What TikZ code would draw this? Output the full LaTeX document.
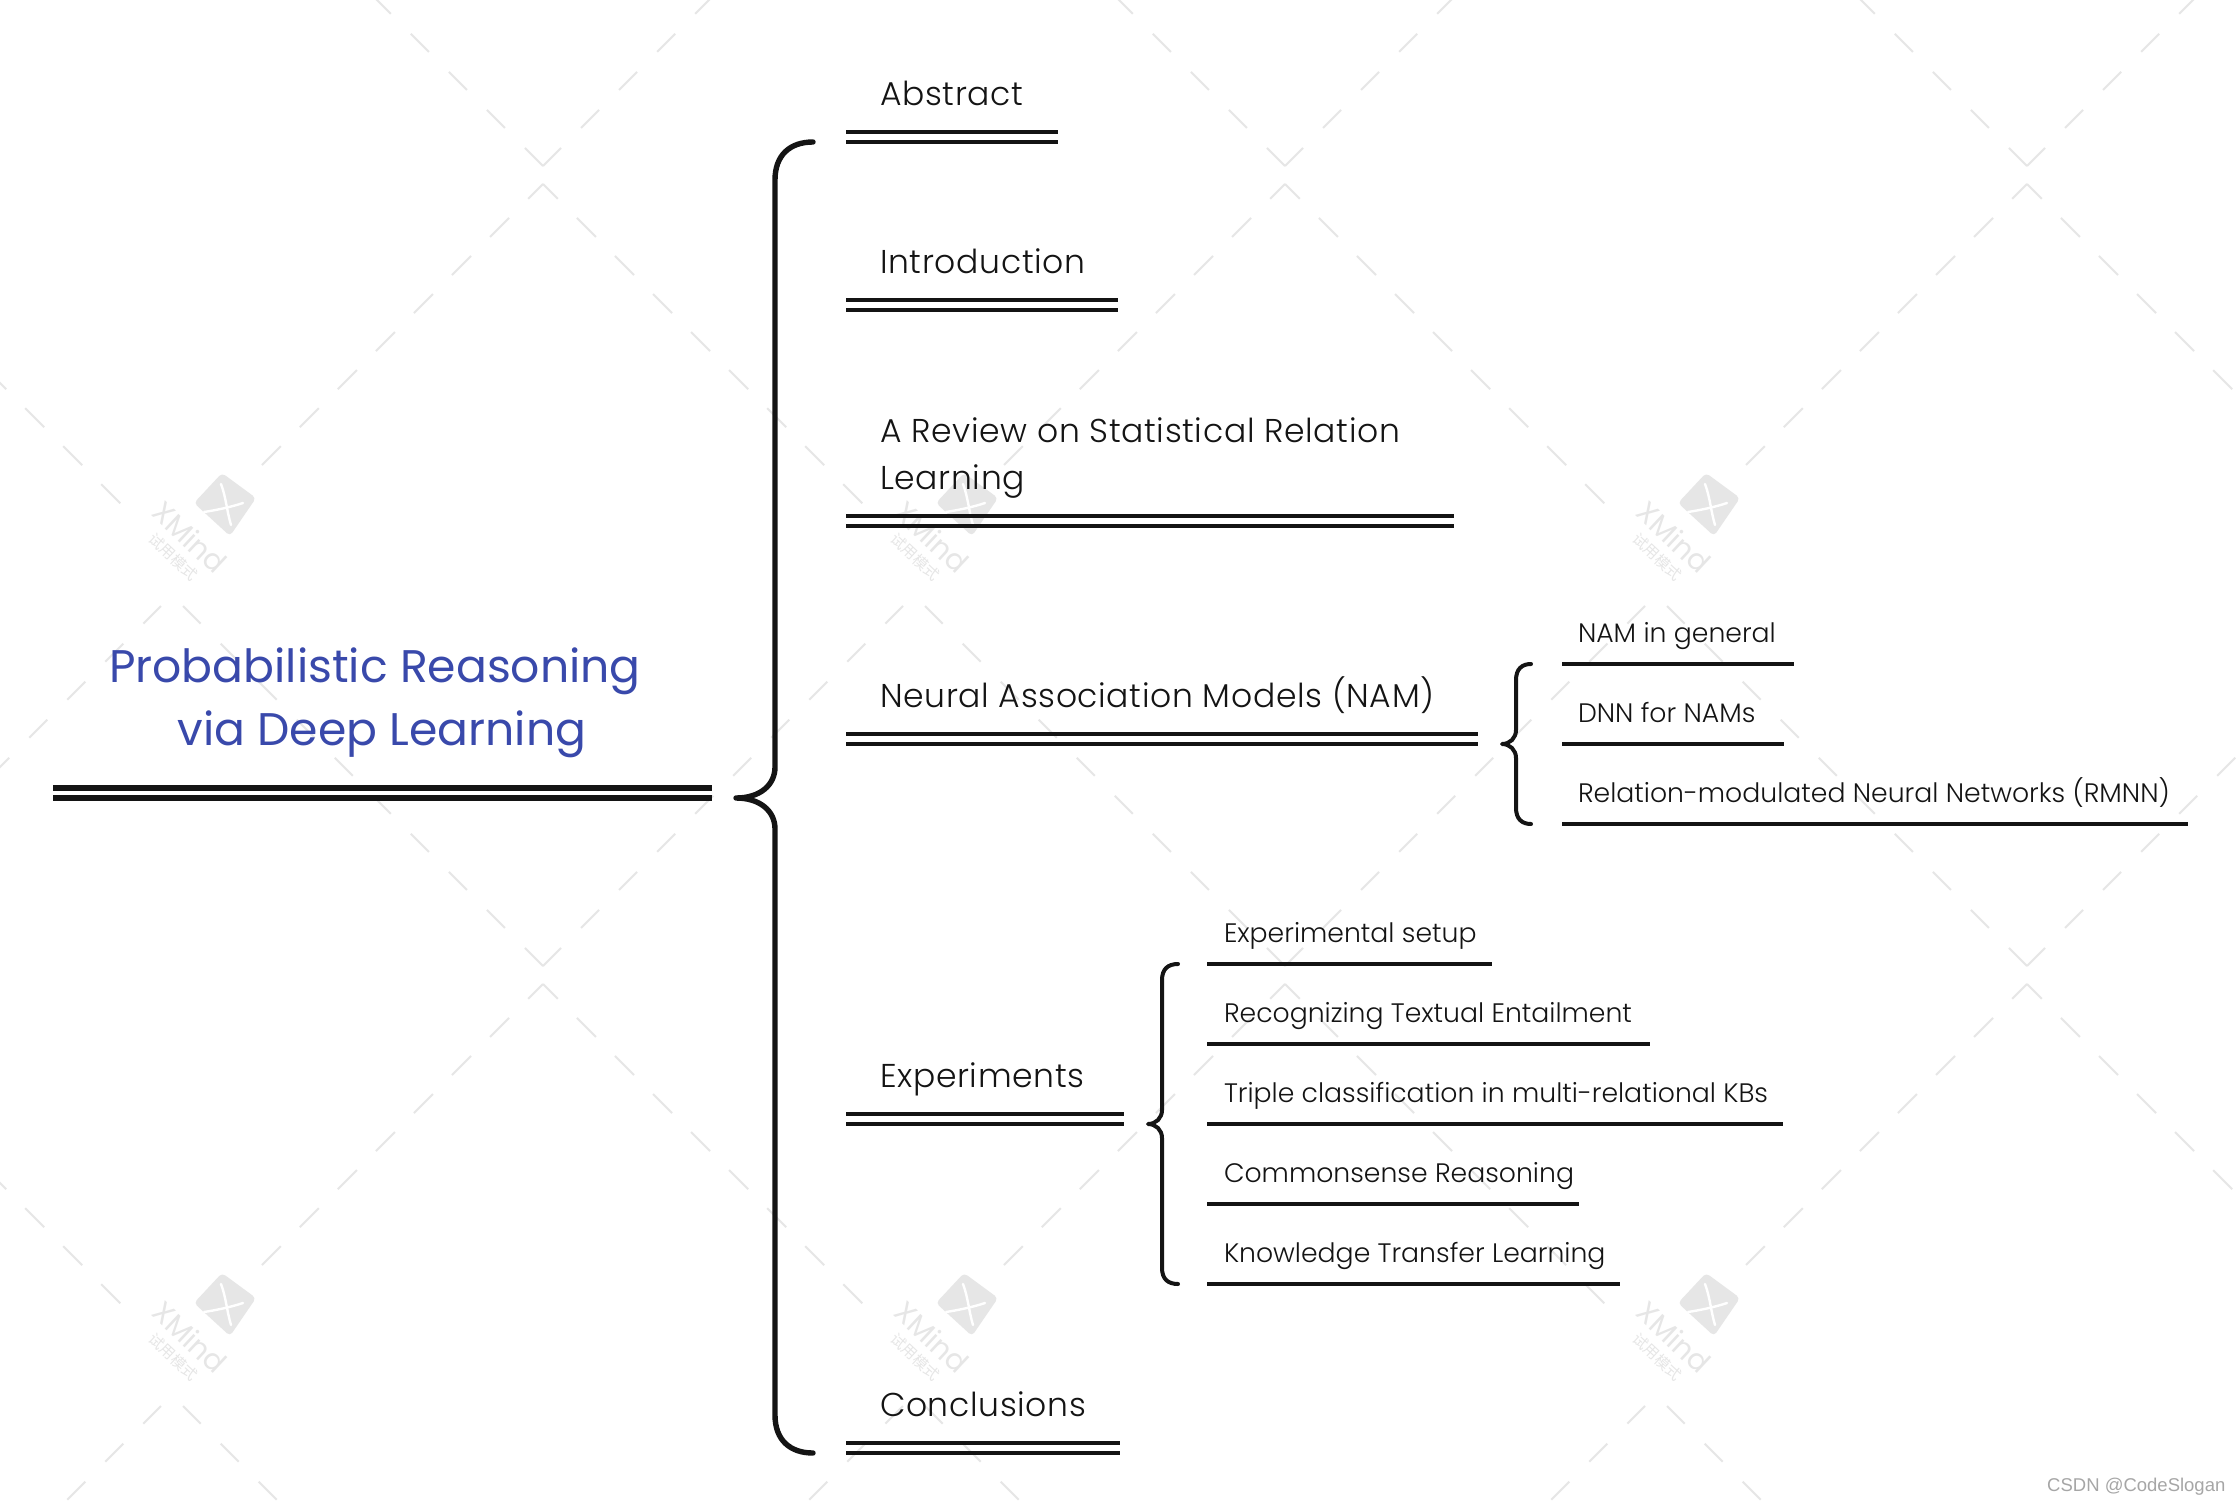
\documentclass[tikz,border=0pt]{standalone}
\usepackage{fontspec}
\setmainfont{Poppins}[UprightFont=* Light]
\newfontfamily\topicfont{Poppins}[UprightFont=* Light,LetterSpace=2]
\newfontfamily\titlefont{Poppins}
\newfontfamily\csdnfont{Liberation Sans}
\newfontfamily\cjkfont{Noto Sans CJK SC}
\definecolor{ink}{HTML}{141414}
\definecolor{titleblue}{HTML}{3949AB}
\definecolor{wm}{HTML}{E6E6E6}
\definecolor{csdn}{HTML}{A6A6A6}
\tikzset{
  lbl/.style={inner sep=0pt,outer sep=0pt,anchor=base west,text=ink},
  topiclbl/.style={lbl,font=\topicfont\fontsize{33}{47}\selectfont,align=left},
  sublbl/.style={lbl,font=\fontsize{26.7}{30}\selectfont},
  rootlbl/.style={inner sep=0pt,outer sep=0pt,anchor=base,text=titleblue,align=center,font=\titlefont\fontsize{45.7}{63}\selectfont},
  rulethick/.style={draw=ink,line width=6pt},
  rulemid/.style={draw=ink,line width=4pt},
  rulesub/.style={draw=ink,line width=4pt},
  bracelarge/.style={draw=ink,line width=5.4pt,line cap=round,line join=round},
  bracesmall/.style={draw=ink,line width=4pt,line cap=round,line join=round},
  wmdash/.style={draw=wm,line width=2pt,dash pattern=on 25.5pt off 28.3pt},
}
% name, x-left, x-right, y of upper rule (lower rule is 10 below), label
\newcommand{\topicrow}[5]{%
  \node[topiclbl] (#1) at (880,#4-27) {#5};
  \coordinate (#1ua) at (#2,#4); \coordinate (#1ub) at (#3,#4);
  \coordinate (#1la) at (#2,#4+10); \coordinate (#1lb) at (#3,#4+10);
  \draw[rulemid] (#1ua) -- (#1ub);
  \draw[rulemid] (#1la) -- (#1lb);
}
% name, x text, x-left, x-right, y of rule, label
\newcommand{\subrow}[6]{%
  \node[sublbl] (#1) at (#2,#5-22) {#6};
  \coordinate (#1a) at (#3,#5); \coordinate (#1b) at (#4,#5);
  \draw[rulesub] (#1a) -- (#1b);
}
\begin{document}
\begin{tikzpicture}[x=1pt,y=-1pt]
\useasboundingbox (0,0) rectangle (2238,1504);
\fill[white] (0,0) rectangle (2238,1504);

% watermark
\begin{scope}
\clip (0,0) rectangle (2238,1504);
\foreach \tx in {-199,543,1285,2027,2769}{
  \foreach \ty in {-800,0,800,1600}{
    \begin{scope}[shift={(\tx,\ty)}]
      \draw[wmdash] (0,166) -- (-360,-194);
      \draw[wmdash] (0,166) -- (360,-194);
      \draw[wmdash,dash pattern=on 21pt off 27pt on 26.9pt off 26.9pt on 26.9pt off 26.9pt on 26.9pt off 26.9pt on 26.9pt off 26.9pt on 26.9pt off 26.9pt on 26.9pt off 26.9pt on 26.9pt off 500pt] (0,184) -- (-281,465);
      \draw[wmdash,dash pattern=on 21pt off 27pt on 26.9pt off 26.9pt on 26.9pt off 26.9pt on 26.9pt off 26.9pt on 26.9pt off 26.9pt on 26.9pt off 26.9pt on 26.9pt off 26.9pt on 26.9pt off 26.9pt on 26.9pt off 500pt] (0,184) -- (323,507);
    \end{scope}
  }
}
\foreach \i/\tx in {0/0,1/742,2/1484}{
  \foreach \j/\ty in {0/0,1/800}{
    \begin{scope}[shift={(\tx,\ty)}]
      \fill[wm,rounded corners=4pt] (222,473) -- (256,498) -- (230,536) -- (194,503) -- cycle;
      \draw[white,line width=2.4pt,line cap=round] (221,484) .. controls (226,497) and (227,512) .. (231,525);
      \draw[white,line width=2.4pt,line cap=round] (204,512) .. controls (217,510) and (231,507) .. (243,503);
      \node[inner sep=0pt,text=wm,rotate=-43,font=\titlefont\fontsize{29}{29}\selectfont] (wmname\i\j) at (190,537) {XMind};
      \node[inner sep=0pt,text=wm,rotate=-43,font=\fontsize{15}{15}\cjkfont] (wmmode\i\j) at (173,557) {试用模式};
    \end{scope}
  }
}
\end{scope}

% root
\node[rootlbl] (root) at (382,745) {Probabilistic Reasoning\kern14pt\\via Deep Learning};
\coordinate (rootua) at (53,788); \coordinate (rootub) at (712,788);
\coordinate (rootla) at (53,798); \coordinate (rootlb) at (712,798);
\draw[rulethick] (rootua) -- (rootub);
\draw[rulethick] (rootla) -- (rootlb);

% main brace
\coordinate (mtip) at (736,798);
\coordinate (mtop) at (813,142);
\coordinate (mbot) at (813,1453);
\draw[bracelarge] (mtop) .. controls (790,142) and (775,155) .. (775,180)
  -- (775,767) .. controls (775,785) and (760,798) .. (mtip)
  .. controls (760,798) and (775,811) .. (775,829)
  -- (775,1415) .. controls (775,1440) and (790,1453) .. (mbot);

% topics
\topicrow{abs}{846}{1058}{132}{Abstract}
\topicrow{intro}{846}{1118}{300}{Introduction}
\topicrow{review}{846}{1454}{516}{A Review on Statistical Relation\\Learning}
\topicrow{nam}{846}{1478}{734}{Neural Association Models (NAM)}
\topicrow{exper}{846}{1124}{1114}{Experiments}
\topicrow{concl}{846}{1120}{1443}{Conclusions}

% NAM brace
\coordinate (ntip) at (1502,744);
\coordinate (ntop) at (1531,664);
\coordinate (nbot) at (1531,824);
\draw[bracesmall] (ntop) .. controls (1522,664) and (1516,669) .. (1516,680)
  -- (1516,730) .. controls (1516,738) and (1510,744) .. (ntip)
  .. controls (1510,744) and (1516,750) .. (1516,758)
  -- (1516,808) .. controls (1516,819) and (1522,824) .. (nbot);
\subrow{nam1}{1578}{1562}{1794}{664}{NAM in general}
\subrow{nam2}{1578}{1562}{1784}{744}{DNN for NAMs}
\subrow{nam3}{1578}{1562}{2188}{824}{Relation-modulated Neural Networks (RMNN)}

% Experiments brace
\coordinate (etip) at (1148,1124);
\coordinate (etop) at (1178,964);
\coordinate (ebot) at (1178,1284);
\draw[bracesmall] (etop) .. controls (1168,964) and (1162,969) .. (1162,980)
  -- (1162,1110) .. controls (1162,1118) and (1156,1124) .. (etip)
  .. controls (1156,1124) and (1162,1130) .. (1162,1138)
  -- (1162,1268) .. controls (1162,1279) and (1168,1284) .. (ebot);
\subrow{ex1}{1224}{1207}{1492}{964}{Experimental setup}
\subrow{ex2}{1224}{1207}{1650}{1044}{Recognizing Textual Entailment}
\subrow{ex3}{1224}{1207}{1783}{1124}{Triple classification in multi-relational KBs}
\subrow{ex4}{1224}{1207}{1579}{1204}{Commonsense Reasoning}
\subrow{ex5}{1224}{1207}{1620}{1284}{Knowledge Transfer Learning}

\node[inner sep=0pt,anchor=base west,text=csdn,font=\csdnfont\fontsize{18.5}{19}\selectfont] (credit) at (2047,1491) {CSDN @CodeSlogan};
\end{tikzpicture}
\end{document}
